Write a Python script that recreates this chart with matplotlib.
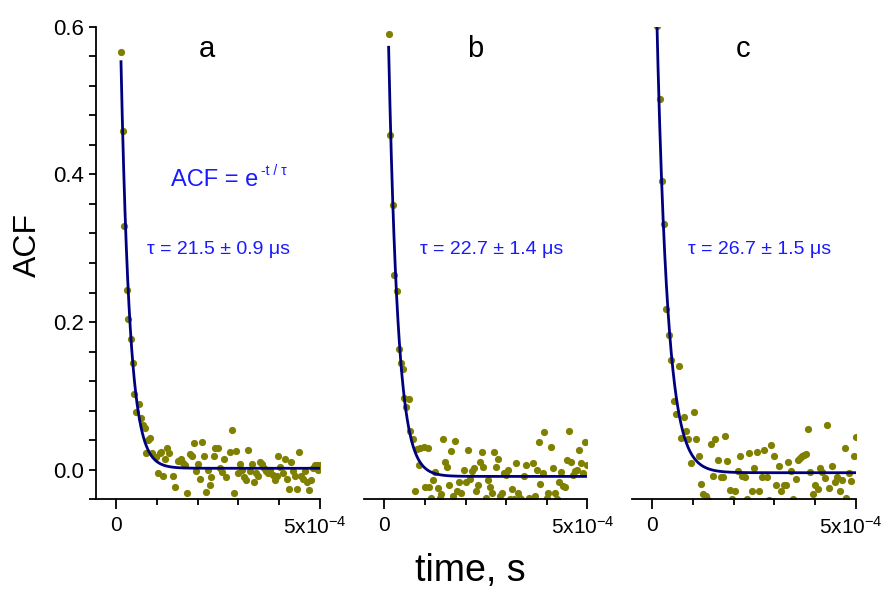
import numpy as np
import matplotlib
matplotlib.use("Agg")
import matplotlib.pyplot as plt
from matplotlib.ticker import FixedLocator, MultipleLocator
from matplotlib.transforms import ScaledTranslation

plt.rcParams['font.family'] = ['Liberation Sans', 'DejaVu Sans']
plt.rcParams['mathtext.fontset'] = 'custom'
plt.rcParams['mathtext.rm'] = 'Liberation Sans'
plt.rcParams['mathtext.it'] = 'Liberation Sans'

# ---------------- data (t in microseconds, ACF values) ----------------
t_a = [11.5, 15.5, 20, 26, 29, 35, 40, 44, 49, 55, 60, 66, 70, 74, 78, 84, 89, 97, 103, 107,
       110, 114, 119, 124, 130, 140, 144, 152, 158, 164, 170, 175, 181, 187, 190, 195, 200,
       205, 210, 215, 220, 225, 230, 234, 240, 244, 250, 254, 259, 265, 270, 280, 285, 290,
       294, 299, 304, 309, 315, 320, 325, 330, 335, 340, 344, 349, 354, 359, 364, 369, 374,
       379, 385, 390, 395, 399, 404, 409, 414, 419, 424, 429, 434, 440, 445, 449, 454, 459,
       464, 469, 474, 479, 484, 489, 494, 497, 500]
acf_a = [0.566, 0.459, 0.330, 0.243, 0.204, 0.177, 0.144, 0.103, 0.078, 0.089, 0.070, 0.061,
         0.056, 0.023, 0.040, 0.043, 0.023, 0.017, -0.005, 0.023, 0.024, -0.009, 0.014, 0.030,
         0.023, -0.008, -0.024, 0.012, 0.014, 0.009, 0.006, -0.031, 0.021, 0.018, 0.036,
         -0.002, 0.008, -0.013, 0.038, 0.019, -0.030, 0.000, -0.020, -0.010, 0.018, 0.029,
         0.029, 0.002, -0.003, 0.014, -0.010, 0.024, 0.054, -0.031, 0.025, -0.005, 0.008,
         0.000, -0.010, -0.014, 0.027, -0.002, 0.008, -0.016, -0.004, -0.008, 0.011, 0.008,
         0.002, -0.001, -0.005, 0.000, -0.007, -0.014, -0.008, 0.019, 0.004, -0.004, 0.014,
         -0.013, -0.026, 0.011, -0.001, -0.009, -0.026, 0.024, -0.008, -0.012, -0.001, -0.017,
         -0.027, -0.014, 0.002, 0.006, 0.007, 0.000, 0.007]

t_b = [10.6, 15, 20.5, 25, 30, 35, 40, 45, 49, 54, 60, 64, 70, 75, 80, 85, 88, 97, 101, 107,
       111, 115, 120, 125, 131, 136, 140, 144, 150, 154, 160, 164, 170, 175, 180, 184, 189,
       195, 201, 205, 210, 216, 220, 225, 230, 235, 240, 244, 250, 254, 259, 265, 270, 275,
       280, 285, 290, 295, 300, 305, 310, 315, 320, 325, 330, 335, 340, 344, 349, 355, 360,
       365, 370, 375, 380, 384, 390, 394, 400, 404, 409, 415, 420, 424, 429, 435, 440, 444,
       449, 454, 459, 464, 470, 475, 480, 484, 489, 494, 500]
acf_b = [0.590, 0.453, 0.358, 0.264, 0.242, 0.163, 0.144, 0.136, 0.097, 0.085, 0.096, 0.052,
         0.041, -0.029, 0.028, 0.006, 0.029, 0.031, -0.023, 0.030, -0.023, -0.038, -0.014,
         -0.003, -0.025, -0.038, -0.033, 0.042, 0.011, 0.004, -0.020, 0.026, -0.036, 0.039,
         -0.029, -0.016, -0.032, 0.000, -0.016, 0.027, -0.012, -0.001, 0.003, -0.029, -0.021,
         0.011, 0.024, 0.004, -0.038, -0.014, -0.023, -0.032, 0.024, 0.004, 0.014, -0.036,
         -0.032, -0.005, -0.007, 0.000, -0.039, -0.026, -0.040, 0.009, -0.032, -0.038, -0.041,
         -0.008, 0.007, -0.038, -0.040, 0.009, -0.035, 0.000, 0.038, -0.019, -0.005, 0.051,
         -0.038, -0.032, 0.031, 0.002, -0.032, -0.040, -0.016, -0.003, -0.022, -0.023, 0.013,
         0.052, 0.010, -0.007, -0.001, 0.000, 0.027, 0.009, -0.004, 0.038, 0.006]

t_c = [11.5, 18, 23, 29.5, 34.4, 41, 46.7, 52.5, 59, 65.6, 71, 77, 84, 89, 95, 101.7, 107, 114,
       120, 125, 132, 138, 143.5, 149, 155, 161.6, 170, 174, 180, 185, 190, 197, 204, 210, 215,
       220, 227, 233, 239, 245, 251, 257.5, 263, 270, 275.5, 281, 287, 293, 299, 305, 311, 316,
       323, 329, 335, 341, 347, 353, 358, 363, 368, 373, 377, 382, 388, 395, 401, 407, 412,
       418, 425, 430.5, 436, 443, 448.6, 454, 461, 466.6, 473, 477, 485, 490, 497, 501]
acf_c = [0.601, 0.502, 0.391, 0.333, 0.218, 0.183, 0.148, 0.093, 0.076, 0.140, 0.043, 0.072,
         0.052, 0.042, 0.009, 0.078, 0.041, 0.018, -0.019, -0.033, -0.035, -0.041, 0.035,
         -0.009, 0.042, 0.013, -0.010, -0.010, 0.046, 0.012, -0.027, -0.040, -0.029, -0.001,
         0.018, -0.008, -0.010, -0.040, 0.023, -0.029, 0.003, 0.024, -0.029, -0.010, 0.027,
         -0.010, -0.041, 0.033, 0.019, -0.021, 0.005, -0.029, -0.021, -0.021, 0.011, -0.002,
         -0.040, -0.013, 0.013, 0.016, 0.018, 0.020, 0.022, 0.055, -0.003, -0.033, -0.021,
         -0.026, 0.003, -0.003, -0.011, 0.060, -0.025, 0.005, -0.017, -0.010, -0.029, -0.014,
         0.030, -0.038, -0.004, -0.015, 0.018, 0.045]

# fit parameters: ACF = A * exp(-t/tau) + offset
tau_us = [21.5, 22.7, 26.7]
tau_err = [0.9, 1.4, 1.5]
amp = [0.94, 0.927, 0.93]
offset = [0.002, -0.009, -0.004]
t_start = [11.5, 10.6, 10.0]
panel_labels = ['a', 'b', 'c']
x_tick_labels = ['0', '5x10$^{-4}$']
y_tick_labels = ['0.0', '0.2', '0.4', '0.6']

# ---------------- figure ----------------
W, H = 885, 589
fig = plt.figure(figsize=(W / 100, H / 100), dpi=100)

def fx(x):
    return x / W

def fy(y):
    return 1 - y / H

ax_left_px = [96, 364, 632]
ax_w_px = 223.5
ax_top_px, ax_bot_px = 26.7, 499.3

dot_color = '#808000'
line_color = '#00007f'
txt_blue = '#1a1aff'

datasets = [(t_a, acf_a), (t_b, acf_b), (t_c, acf_c)]

for i, (ts, ys) in enumerate(datasets):
    ax = fig.add_axes([fx(ax_left_px[i]), fy(ax_bot_px), ax_w_px / W,
                       (ax_bot_px - ax_top_px) / H])
    t_s = np.array(ts) * 1e-6
    ax.plot(t_s, ys, 'o', color=dot_color, ms=5.2, mec='none', zorder=2)
    tt = np.linspace(t_start[i], 500, 600)
    fit = amp[i] * np.exp(-tt / tau_us[i]) + offset[i]
    ax.plot(tt * 1e-6, fit, '-', color=line_color, lw=2.0, zorder=3)
    ax.set_xlim(-0.5e-4, 5e-4)
    ax.set_ylim(-0.04, 0.6)
    for s in ['top', 'right']:
        ax.spines[s].set_visible(False)
    ax.spines['bottom'].set_linewidth(1.3)
    ax.spines['left'].set_linewidth(1.3)
    ax.xaxis.set_major_locator(FixedLocator([0, 5e-4]))
    ax.xaxis.set_minor_locator(FixedLocator([1e-4, 2e-4, 3e-4, 4e-4]))
    ax.set_xticklabels(x_tick_labels)
    ax.tick_params(axis='x', which='major', direction='out', length=7, width=1.3,
                   labelsize=15, pad=5)
    ax.tick_params(axis='x', which='minor', direction='out', length=4, width=1.3)
    # shift the "5x10^-4" label slightly left, as in the original
    majticks = ax.xaxis.get_major_ticks()
    lbl = majticks[1].label1
    lbl.set_transform(lbl.get_transform() + ScaledTranslation(-0.05, 0, fig.dpi_scale_trans))
    if i == 0:
        ax.yaxis.set_major_locator(FixedLocator([0.0, 0.2, 0.4, 0.6]))
        ax.yaxis.set_minor_locator(MultipleLocator(0.04))
        ax.set_yticklabels(y_tick_labels)
        ax.tick_params(axis='y', which='major', direction='out', length=5, width=1.3,
                       labelsize=16, pad=4)
        ax.tick_params(axis='y', which='minor', direction='out', length=5, width=1.3)
    else:
        ax.spines['left'].set_visible(False)
        ax.set_yticks([])
        ax.yaxis.set_minor_locator(FixedLocator([]))
    ax.patch.set_alpha(0)

# panel letters
letter_x = [206.7, 475, 742.7]
for i, lab in enumerate(panel_labels):
    fig.text(fx(letter_x[i]), fy(56.7), lab, fontsize=21, ha='center', va='baseline',
             color='black')

# tau annotations
tau_x = [147.3, 420, 688]
for i in range(3):
    fig.text(fx(tau_x[i]), fy(254), f'\u03c4 = {tau_us[i]} \u00b1 {tau_err[i]} \u03bcs',
             fontsize=14, ha='left', va='baseline', color=txt_blue)

# equation
fig.text(fx(171), fy(186), 'ACF = e', fontsize=17, ha='left', va='baseline', color=txt_blue)
fig.text(fx(261), fy(175), '-t / \u03c4', fontsize=10, ha='left', va='baseline', color=txt_blue)

# axis titles
fig.text(fx(28), fy(245), 'ACF', fontsize=23, rotation=90, ha='center', va='center')
fig.text(fx(470), fy(581), 'time, s', fontsize=27, ha='center', va='baseline')

fig.savefig('out.png', dpi=100)
